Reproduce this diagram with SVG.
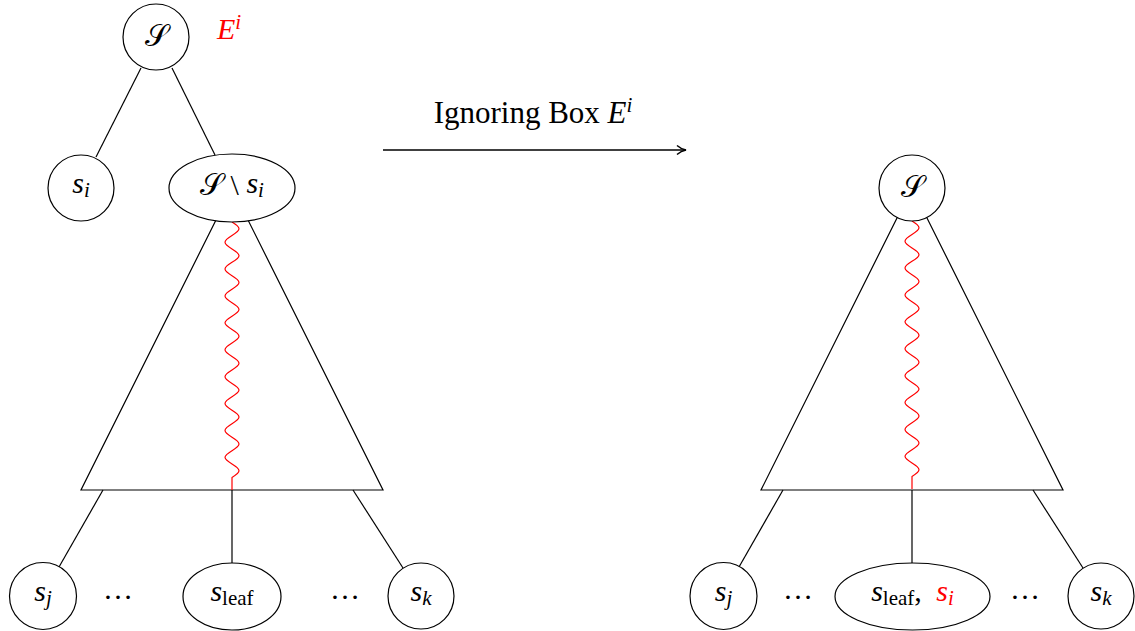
<svg xmlns="http://www.w3.org/2000/svg" width="1135" height="631" viewBox="0 0 1135 631">
<style>
.ln{fill:none;stroke:#000;stroke-width:1.2}
.nd{fill:#fff;stroke:#000;stroke-width:1.2}
.tri{fill:#fff;stroke:#000;stroke-width:1.2;stroke-linejoin:miter}
.snake{fill:none;stroke:#f00;stroke-width:1.2}
.arrow{fill:none;stroke:#000;stroke-width:1.6}
text{font-family:"Liberation Serif",serif;font-size:30px;fill:#000}
.m{font-family:"Liberation Serif",serif;font-style:italic}
.cal{font-family:"Liberation Serif","DejaVu Sans","DejaVu Serif",serif;font-style:normal}
.sub{font-size:21px}
.red{fill:#f00}
.mid{text-anchor:middle}
</style>
<defs>
<path id="snk" d="M0,0 c9.33,5.71 9.33,7.74 0,13.45 s-9.33,7.74 0,13.45 s9.33,7.74 0,13.45 s-9.33,7.74 0,13.45 s9.33,7.74 0,13.45 s-9.33,7.74 0,13.45 s9.33,7.74 0,13.45 s-9.33,7.74 0,13.45 s9.33,7.74 0,13.45 s-9.33,7.74 0,13.45 s9.33,7.74 0,13.45 s-9.33,7.74 0,13.45 s9.33,7.74 0,13.45 s-9.33,7.74 0,13.45 s9.33,7.74 0,13.45 s-9.33,7.74 0,13.45 s9.33,7.74 0,13.45 s-9.33,7.74 0,13.45 s9.33,7.74 0,13.45 L0,268"/>
<marker id="arr" viewBox="0 0 12 12" refX="11" refY="6" markerWidth="12" markerHeight="12" markerUnits="userSpaceOnUse" orient="auto">
<path d="M2,1.5 Q6,5 11,6 Q6,7 2,10.5" fill="none" stroke="#000" stroke-width="1.5"/>
</marker>
</defs>

<g id="connectors">
<line class="ln" x1="141" y1="68" x2="96" y2="157"/>
<line class="ln" x1="172" y1="68" x2="215" y2="155"/>
<polygon id="triangle-left" class="tri" points="232,188 81,490 383,490"/>
<use href="#snk" class="snake" x="232" y="222"/>
<line class="ln" x1="103" y1="490" x2="59" y2="567"/>
<line class="ln" x1="232" y1="490" x2="232" y2="563"/>
<line class="ln" x1="353" y1="490" x2="403" y2="568"/>

<polygon id="triangle-right" class="tri" points="912,188 761,490 1063,490"/>
<use href="#snk" class="snake" x="912" y="221"/>
<line class="ln" x1="783" y1="490" x2="739" y2="567"/>
<line class="ln" x1="912" y1="490" x2="912" y2="563"/>
<line class="ln" x1="1033" y1="490" x2="1083" y2="568"/>

<line class="arrow" x1="383" y1="150" x2="686" y2="150" marker-end="url(#arr)"/>
</g>

<g id="arrow-label">
<text x="533" y="123" class="mid" style="font-size:31px">Ignoring Box <tspan class="m">E</tspan><tspan class="m sub" dy="-11">i</tspan></text>
</g>

<g id="root-left">
<circle class="nd" cx="156" cy="37" r="33"/>
<text x="156" y="46" class="mid cal">𝒮</text>
</g>
<g id="box-label">
<text x="217" y="39" class="red"><tspan class="m">E</tspan><tspan class="m sub" dy="-10">i</tspan></text>
</g>
<g id="node-si">
<circle class="nd" cx="81" cy="188" r="33"/>
<text x="81" y="193" class="mid"><tspan class="m">s</tspan><tspan class="m sub" dy="4">i</tspan></text>
</g>
<g id="node-s-minus-si">
<ellipse class="nd" cx="232" cy="188" rx="63" ry="34"/>
<text x="232" y="195" class="mid"><tspan class="cal">𝒮</tspan> \ <tspan class="m" dy="-2">s</tspan><tspan class="m sub" dy="4">i</tspan></text>
</g>
<g id="node-sj-left">
<circle class="nd" cx="43" cy="596" r="33.5"/>
<text x="43" y="601" class="mid"><tspan class="m">s</tspan><tspan class="m sub" dy="4">j</tspan></text>
</g>
<g id="dots-left-1"><text x="118" y="599" class="mid">…</text></g>
<g id="node-sleaf-left">
<ellipse class="nd" cx="232" cy="596.5" rx="49" ry="33.5"/>
<text x="232" y="601" class="mid"><tspan class="m">s</tspan><tspan class="sub" dy="4">leaf</tspan></text>
</g>
<g id="dots-left-2"><text x="345" y="599" class="mid">…</text></g>
<g id="node-sk-left">
<circle class="nd" cx="421" cy="596" r="33"/>
<text x="421" y="601" class="mid"><tspan class="m">s</tspan><tspan class="m sub" dy="4">k</tspan></text>
</g>

<g id="root-right">
<circle class="nd" cx="912" cy="188" r="33"/>
<text x="912" y="197" class="mid cal">𝒮</text>
</g>
<g id="node-sj-right">
<circle class="nd" cx="723.5" cy="596" r="33.5"/>
<text x="723.5" y="601" class="mid"><tspan class="m">s</tspan><tspan class="m sub" dy="4">j</tspan></text>
</g>
<g id="dots-right-1"><text x="798" y="599" class="mid">…</text></g>
<g id="node-sleaf-si-right">
<ellipse class="nd" cx="912.5" cy="596.5" rx="77.5" ry="33.5"/>
<text x="912.5" y="601" class="mid"><tspan class="m">s</tspan><tspan class="sub" dy="4">leaf</tspan><tspan dy="-4">, </tspan><tspan class="m red" dx="7">s</tspan><tspan class="m sub red" dy="4">i</tspan></text>
</g>
<g id="dots-right-2"><text x="1025" y="599" class="mid">…</text></g>
<g id="node-sk-right">
<circle class="nd" cx="1101" cy="596" r="33"/>
<text x="1101" y="601" class="mid"><tspan class="m">s</tspan><tspan class="m sub" dy="4">k</tspan></text>
</g>
</svg>
